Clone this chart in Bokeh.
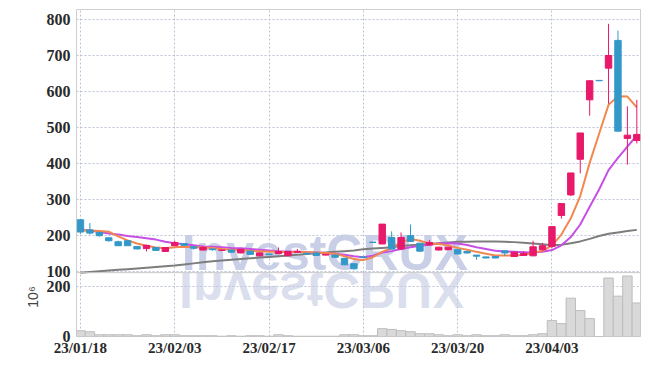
from bokeh.plotting import figure
from bokeh.models import ColumnDataSource, FixedTicker, Div, Range1d, Span
from bokeh.embed import file_html
from bokeh.resources import INLINE
from bokeh.core.properties import value

# ---- data ----
idx = list(range(60))
tick_pos = [0, 10, 20, 30, 40, 50]
tick_labels = ["23/01/18", "23/02/03", "23/02/17", "23/03/06", "23/03/20", "23/04/03"]
price_ticks = [100, 200, 300, 400, 500, 600, 700, 800]
vol_tick_labels = ["0", "200"]

opens = [244, 216, 209, 194, 183, 186, 170, 164, 167, 156,
         172, 178, 169, 160, 163, 159, 160, 152, 157, 144,
         149, 150, 144, 154, 151, 152, 146, 146, 137, 122,
         141, 182, 177, 195, 163, 200, 179, 174, 160, 161,
         161, 156, 146, 141, 142, 158, 142, 145, 144, 161,
         170, 256, 313, 412, 577, 631, 665, 742, 470, 464]
highs = [246, 235, 210, 195, 186, 186, 170, 175, 168, 167,
         186, 178, 170, 172, 165, 161, 161, 163, 158, 153,
         150, 167, 157, 163, 152, 153, 149, 147, 138, 123,
         141, 182, 232, 212, 209, 231, 180, 188, 169, 169,
         162, 157, 146, 142, 142, 159, 155, 157, 186, 180,
         225, 289, 374, 485, 630, 631, 788, 769, 559, 577]
lows = [205, 203, 197, 183, 171, 172, 162, 156, 158, 155,
        171, 172, 161, 159, 158, 158, 153, 151, 147, 143,
        146, 149, 143, 153, 148, 144, 145, 139, 118, 106,
        139, 180, 176, 162, 161, 183, 155, 173, 159, 160,
        148, 150, 133, 137, 137, 144, 141, 144, 143, 159,
        165, 247, 310, 373, 533, 629, 566, 490, 397, 456]
closes = [210, 207, 200, 186, 172, 172, 163, 173, 159, 167,
          181, 173, 165, 167, 161, 160, 154, 162, 148, 152,
          147, 156, 156, 156, 149, 145, 148, 140, 119, 108,
          139, 181, 232, 163, 195, 184, 157, 181, 168, 168,
          149, 152, 143, 138, 138, 152, 154, 151, 169, 172,
          225, 289, 374, 485, 630, 630, 700, 490, 479, 481]
volume = [23, 19, 7, 7, 7, 7, 3, 7, 3, 7,
          7, 3, 3, 3, 3, 1, 3, 1, 3, 3,
          1, 7, 3, 1, 1, 1, 1, 1, 7, 7,
          3, 3, 31, 28, 23, 19, 11, 11, 7, 3,
          7, 3, 7, 3, 3, 7, 3, 3, 7, 11,
          63, 51, 152, 103, 71, 0, 232, 160, 240, 133]
ma_orange = [214, 214, 213, 211, 198, 187, 178, 172, 167, 165,
             168, 169, 168, 167, 166, 163, 161, 160, 158, 157,
             155, 155, 154, 155, 154, 153, 152, 150, 143, 135,
             132, 140, 155, 166, 181, 191, 186, 178, 177, 173,
             166, 161, 155, 150, 145, 145, 145, 147, 152, 158,
             172, 203, 248, 310, 402, 483, 563, 587, 586, 556]
ma_purple = [216, 214, 210, 206, 203, 199, 196, 193, 189, 183,
             179, 176, 173, 170, 169, 168, 166, 165, 163, 161,
             159, 157, 156, 155, 154, 153, 152, 150, 147, 143,
             140, 144, 153, 157, 163, 168, 172, 175, 178, 179,
             178, 174, 168, 163, 158, 156, 155, 154, 153, 155,
             160, 173, 196, 231, 280, 328, 382, 416, 447, 478]
ma_gray = [97, 99, 101, 103, 105, 107, 109, 111, 113, 115,
           117, 120, 123, 126, 129, 131, 133, 135, 137, 139,
           141, 143, 145, 147, 149, 151, 153, 155, 157, 159,
           162, 164, 166, 168, 171, 173, 175, 177, 179, 181,
           183, 183, 184, 184, 184, 183, 182, 180, 178, 176,
           173, 175, 179, 184, 191, 199, 205, 209, 213, 216]

UP = "#e8186a"
DOWN = "#3398c8"
FONT = "Liberation Sans Narrow"
GRID = "#bcc3d8"

# price axis spans the upper panel; the volume panel sits under the 97.2 line
PRICE_RANGE = (-80, 827.8)
SPLIT = 97.2
VOL0_AT, VOL200_AT = -80, 60          # price-axis positions of the volume ticks 0 and 200
VOL_RANGE = (0, 200 * (PRICE_RANGE[1] - PRICE_RANGE[0]) / (VOL200_AT - VOL0_AT))

colors = [UP if c > o else DOWN for o, c in zip(opens, closes)]
src = ColumnDataSource(dict(
    x=idx, o=opens, h=highs, l=lows, c=closes,
    top=[max(o, c) for o, c in zip(opens, closes)],
    bot=[min(o, c) for o, c in zip(opens, closes)],
    col=colors, vol=volume,
    m5=ma_orange, m10=ma_purple, m60=ma_gray))

p = figure(frame_width=564, frame_height=327,
           x_range=Range1d(-0.42, 59.39), y_range=Range1d(*PRICE_RANGE),
           output_backend="svg", toolbar_location=None,
           min_border_left=76, min_border_right=2, min_border_top=9, min_border_bottom=4,
           background_fill_color="white", border_fill_color="white")
p.extra_y_ranges = {"vol": Range1d(*VOL_RANGE)}
p.outline_line_color = "#cfcfcf"

# axes / grids
p.yaxis.ticker = FixedTicker(ticks=[VOL0_AT, VOL200_AT] + price_ticks)
p.yaxis.major_label_overrides = {VOL0_AT: vol_tick_labels[0], VOL200_AT: vol_tick_labels[1]}
p.xaxis.ticker = FixedTicker(ticks=tick_pos)
p.xaxis.major_label_overrides = {t: l for t, l in zip(tick_pos, tick_labels)}
p.ygrid.ticker = FixedTicker(ticks=[VOL200_AT] + price_ticks)
for g in (p.xgrid[0], p.ygrid[0]):
    g.grid_line_color = GRID
    g.grid_line_dash = "2 2"
    g.grid_line_width = 1
for ax, size, stand in ((p.yaxis[0], "16px", 6), (p.xaxis[0], "15px", 3)):
    ax.axis_line_color = None
    ax.major_tick_line_color = None
    ax.minor_tick_line_color = None
    ax.major_tick_out = 0
    ax.major_tick_in = 0
    ax.major_label_standoff = stand
    ax.major_label_text_font = FONT
    ax.major_label_text_font_style = "bold"
    ax.major_label_text_font_size = size
    ax.major_label_text_color = "#2a2a2a"

p.add_layout(Span(location=SPLIT, dimension="width", line_color="#c8c8c8", line_width=1))

# watermark
p.text(x=[10.75], y=[153], text=["InvestCRUX"], text_font=value("Liberation Sans"),
       text_font_style="bold", text_font_size="50px", text_color="#c6cce5",
       text_alpha=0.95, text_baseline="alphabetic", text_align="left")

# volume
p.vbar(x="x", width=1, top="vol", bottom=0, source=src, y_range_name="vol",
       fill_color="#d9d9d9", line_color="#bdbdbd", line_width=1)

# moving averages
p.line("x", "m60", source=src, line_color="#7d7d7d", line_width=2)
p.line("x", "m10", source=src, line_color="#c74fe6", line_width=2)
p.line("x", "m5", source=src, line_color="#f2874f", line_width=2)

# candles
p.segment(x0="x", y0="l", x1="x", y1="h", source=src, line_color="col", line_width=1)
p.vbar(x="x", width=0.68, top="top", bottom="bot", source=src,
       fill_color="col", line_color="col", line_width=1)

extras = []
try:
    extras.append(Div(text="InvestCRUX", styles={
        "position": "absolute", "left": "179px", "top": "265px",
        "font-family": "Liberation Sans", "font-weight": "bold", "font-size": "50px",
        "line-height": "50px", "color": "rgba(196,202,226,0.6)",
        "transform": "scaleY(-1)", "white-space": "nowrap", "pointer-events": "none"}))
    extras.append(Div(text="10\u2076", styles={
        "position": "absolute", "left": "22px", "top": "289px",
        "width": "22px", "height": "16px", "text-align": "center",
        "font-family": "Liberation Sans", "font-size": "14px", "line-height": "16px",
        "color": "#444444", "transform": "rotate(-90deg)", "white-space": "nowrap"}))
    for d in extras:
        p.elements.append(d)
except Exception:
    pass

open("out.html", "w").write(file_html(p, INLINE))
